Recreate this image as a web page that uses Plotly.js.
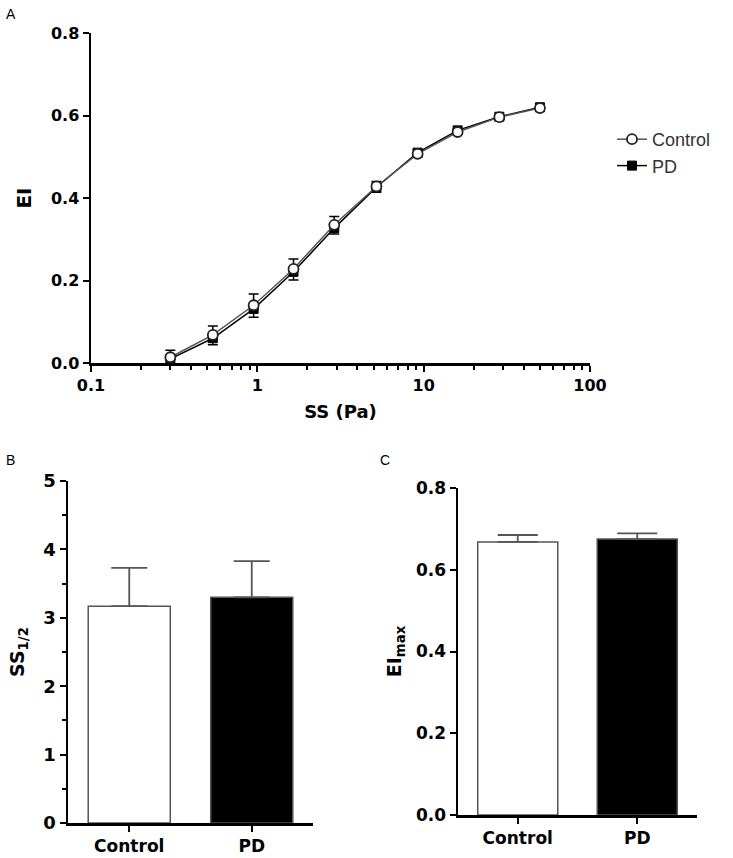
<!DOCTYPE html>
<html>
<head>
<meta charset="utf-8">
<script src="https://cdn.plot.ly/plotly-3.0.1.min.js"></script>
<style>html,body{margin:0;padding:0;background:#fff}#chart{width:733px;height:858px}</style>
</head>
<body>
<div id="chart"></div>
<script>
// Panel A: elongation index vs shear stress
const shearStress = [0.3, 0.54, 0.95, 1.65, 2.9, 5.2, 9.2, 16, 28.5, 50];
const eiControl = [0.014, 0.068, 0.14, 0.228, 0.335, 0.428, 0.507, 0.560, 0.596, 0.618];
const eiControlErr = [0.017, 0.022, 0.027, 0.024, 0.02, 0.012, 0.01, 0.008, 0.006, 0.006];
const eiPD = [0.010, 0.060, 0.131, 0.221, 0.327, 0.426, 0.510, 0.564, 0.597, 0.620];
const eiPDErr = [0.012, 0.016, 0.02, 0.02, 0.014, 0.012, 0.01, 0.008, 0.006, 0.006];
const xTickVals = [0.1, 1, 10, 100];
const xTickText = ['0.1', '1', '10', '100'];
const xMinorVals = [0.2,0.3,0.4,0.5,0.6,0.7,0.8,0.9,2,3,4,5,6,7,8,9,20,30,40,50,60,70,80,90];

// Panel B: SS1/2
const groups = ['Control', 'PD'];
const ssHalf = [3.17, 3.30];
const ssHalfErr = [0.56, 0.53];

// Panel C: EImax
const eiMax = [0.668, 0.675];
const eiMaxErr = [0.017, 0.014];

const W = 733, H = 858;
const fx = p => p / W;
const fy = p => 1 - p / H;

const tickFont = {family: 'DejaVu Sans', size: 16, color: '#000', weight: 'bold'};
const titleFont = {family: 'DejaVu Sans', size: 18, color: '#000', weight: 'bold'};

const baseAxis = {
  showgrid: false, zeroline: false, showline: true, linecolor: '#000', linewidth: 2.5,
  ticks: 'outside', ticklen: 6, tickwidth: 2, tickcolor: '#000', tickfont: tickFont,
  fixedrange: true
};

const traces = [
  {
    x: shearStress, y: eiPD, name: 'PD', type: 'scatter', mode: 'lines+markers',
    xaxis: 'x', yaxis: 'y',
    line: {color: '#000', width: 1.5},
    marker: {symbol: 'square', size: 9, color: '#000', line: {color: '#000', width: 1}},
    error_y: {type: 'data', symmetric: false, array: eiPD.map(() => 0), arrayminus: eiPDErr,
              color: '#000', thickness: 1.5, width: 5}
  },
  {
    x: shearStress, y: eiControl, name: 'Control', type: 'scatter', mode: 'lines+markers',
    xaxis: 'x', yaxis: 'y',
    line: {color: '#555', width: 1.5},
    marker: {symbol: 'circle', size: 10, color: '#fff', line: {color: '#222', width: 1.8}},
    error_y: {type: 'data', symmetric: false, array: eiControlErr, arrayminus: eiControl.map(() => 0),
              color: '#000', thickness: 1.5, width: 5}
  },
  {
    x: groups, y: ssHalf, type: 'bar', xaxis: 'x2', yaxis: 'y2', showlegend: false, width: 0.67,
    marker: {color: ['#fff', '#000'], line: {color: '#555', width: 1.5}},
    error_y: {type: 'data', symmetric: false, array: ssHalfErr, arrayminus: [0, 0],
              color: '#555', thickness: 1.8, width: 18}
  },
  {
    x: groups, y: eiMax, type: 'bar', xaxis: 'x3', yaxis: 'y3', showlegend: false, width: 0.67,
    marker: {color: ['#fff', '#000'], line: {color: '#555', width: 1.5}},
    error_y: {type: 'data', symmetric: false, array: eiMaxErr, arrayminus: [0, 0],
              color: '#555', thickness: 1.8, width: 20}
  }
];

const catFont = {family: 'DejaVu Sans', size: 17, color: '#000', weight: 'bold'};

const layout = {
  width: W, height: H,
  margin: {l: 0, r: 0, t: 0, b: 0},
  paper_bgcolor: '#fff', plot_bgcolor: 'rgba(0,0,0,0)',
  showlegend: true,
  legend: {
    x: fx(612), y: fy(121), xanchor: 'left', yanchor: 'top',
    font: {family: 'Liberation Sans', size: 18, color: '#333'},
    traceorder: 'reversed', itemwidth: 30, bgcolor: 'rgba(0,0,0,0)',
    tracegroupgap: 0
  },
  xaxis: Object.assign({}, baseAxis, {
    type: 'log', range: [-1, 2], domain: [fx(91), fx(590)], anchor: 'y',
    tickmode: 'array', tickvals: xTickVals, ticktext: xTickText,
    minor: {tickmode: 'array', tickvals: xMinorVals, ticks: 'outside', ticklen: 4, tickwidth: 2, tickcolor: '#000', showgrid: false},
    title: {text: 'SS (Pa)', font: titleFont, standoff: 12}
  }),
  yaxis: Object.assign({}, baseAxis, {
    range: [0, 0.8], domain: [fy(363), fy(33)], anchor: 'x',
    tickmode: 'array', tickvals: [0, 0.2, 0.4, 0.6, 0.8], tickformat: '.1f',
    title: {text: 'EI', font: {family: 'DejaVu Sans', size: 20, color: '#000', weight: 'bold'}, standoff: 14}
  }),
  xaxis2: Object.assign({}, baseAxis, {
    type: 'category', range: [-0.5, 1.5], domain: [fx(68), fx(313)], anchor: 'y2',
    tickfont: catFont
  }),
  yaxis2: Object.assign({}, baseAxis, {
    range: [0, 5], domain: [fy(823), fy(481)], anchor: 'x2',
    tickmode: 'array', tickvals: [0, 1, 2, 3, 4, 5],
    tickfont: {family: 'DejaVu Sans', size: 18, color: '#000', weight: 'bold'},
    minor: {tickmode: 'array', tickvals: [0.5, 1.5, 2.5, 3.5, 4.5], ticks: 'outside', ticklen: 4, tickwidth: 2, tickcolor: '#000', showgrid: false},
    title: {text: 'SS<sub>1/2</sub>', font: {family: 'DejaVu Sans', size: 19, color: '#000', weight: 'bold'}, standoff: 14}
  }),
  xaxis3: Object.assign({}, baseAxis, {
    type: 'category', range: [-0.5, 1.5], domain: [fx(458), fx(697)], anchor: 'y3',
    tickfont: catFont
  }),
  yaxis3: Object.assign({}, baseAxis, {
    range: [0, 0.8], domain: [fy(815), fy(488)], anchor: 'x3',
    tickmode: 'array', tickvals: [0, 0.2, 0.4, 0.6, 0.8], tickformat: '.1f',
    tickfont: {family: 'DejaVu Sans', size: 17, color: '#000', weight: 'bold'},
    title: {text: 'EI<sub>max</sub>', font: {family: 'DejaVu Sans', size: 19, color: '#000', weight: 'bold'}, standoff: 10}
  }),
  annotations: [
    {text: 'A', x: fx(4), y: fy(4), xref: 'paper', yref: 'paper', xanchor: 'left', yanchor: 'top', showarrow: false,
     font: {family: 'Liberation Sans', size: 14, color: '#000'}},
    {text: 'B', x: fx(4), y: fy(450), xref: 'paper', yref: 'paper', xanchor: 'left', yanchor: 'top', showarrow: false,
     font: {family: 'Liberation Sans', size: 14, color: '#000'}},
    {text: 'C', x: fx(378), y: fy(450), xref: 'paper', yref: 'paper', xanchor: 'left', yanchor: 'top', showarrow: false,
     font: {family: 'Liberation Sans', size: 14, color: '#000'}}
  ]
};

Plotly.newPlot('chart', traces, layout, {displayModeBar: false, staticPlot: true});
</script>
</body>
</html>
